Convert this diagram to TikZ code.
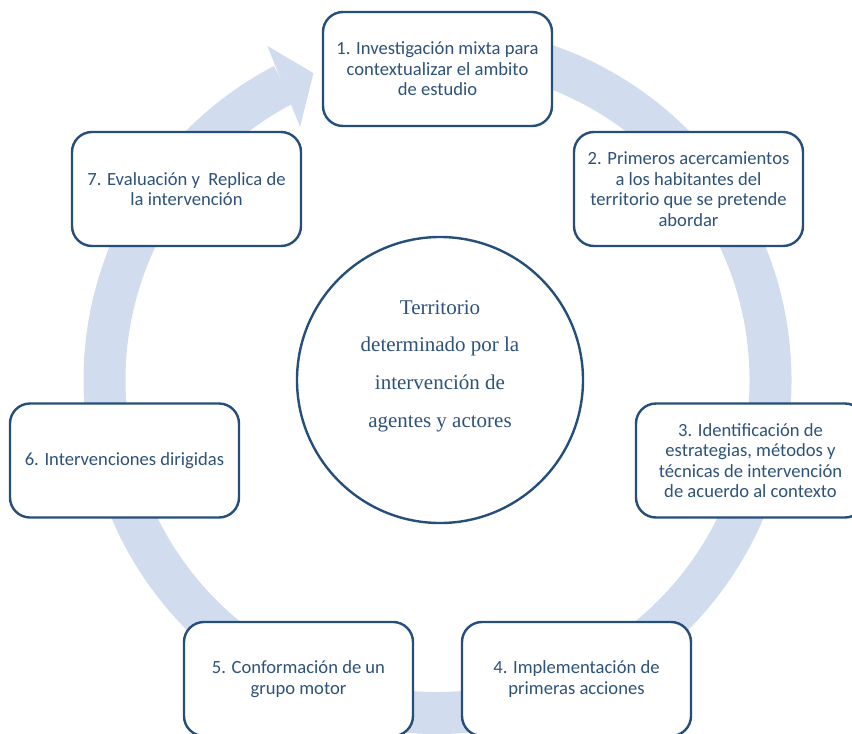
\documentclass[tikz,border=0pt]{standalone}
\usepackage{fontspec}
\setmainfont{Carlito}
\newfontfamily\serifhub{Liberation Serif}
\definecolor{ringfill}{RGB}{209,221,238}
\definecolor{phaseline}{RGB}{38,78,122}
\definecolor{phasetext}{RGB}{46,82,122}
\tikzset{
  phase/.style={draw=phaseline, line width=2.4pt, fill=white, rounded corners=20pt,
    minimum width=229pt, minimum height=114pt, align=center, text=phasetext,
    font=\fontsize{18.6}{20.5}\selectfont, inner sep=2pt},
  hub/.style={circle, draw=phaseline, line width=2.4pt, fill=white, minimum size=286pt},
  hubtext/.style={align=center, text=phasetext, font=\serifhub\fontsize{21}{37.7}\selectfont}
}
\begin{document}
\begin{tikzpicture}[x=1pt,y=1pt,yscale=-1]
        \useasboundingbox (0,0) rectangle (852,734);
        % cycle arrow behind the phases (angles run clockwise, y points down)
        \begin{scope}[shift={(437.5,380)}]
            \coordinate (ringstart) at (-95:333);
            \draw [ringfill, line width=42pt] (ringstart) arc [start angle=-95, end angle=242.5, radius=333];
            \fill [ringfill] (-117:375) -- (-112:331) -- (-118.5:288) -- cycle;
        \end{scope}
        \node [hub] (hub) at (440,380) {};
        \node [hubtext] (hubtxt) at (440,366) {Territorio\\determinado por la\\intervención de\\agentes y actores};
        \node [phase] (p1) at (437.5,69) {1. Investigación mixta para\\contextualizar el ambito\\de estudio};
        \node [phase] (p2) at (688.5,189) {2. Primeros acercamientos\\a los habitantes del\\territorio que se pretende\\abordar};
        \node [phase] (p3) at (750.5,460.5) {3. Identificación de\\estrategias, métodos y\\técnicas de intervención\\de acuerdo al contexto};
        \node [phase] (p4) at (576.5,679) {4. Implementación de\\primeras acciones};
        \node [phase] (p5) at (298.5,679) {5. Conformación de un\\grupo motor};
        \node [phase] (p6) at (124.5,460.5) {6. Intervenciones dirigidas};
        \node [phase] (p7) at (186.5,189) {7. Evaluación y\ \ Replica de\\la intervención};
\end{tikzpicture}
\end{document}
